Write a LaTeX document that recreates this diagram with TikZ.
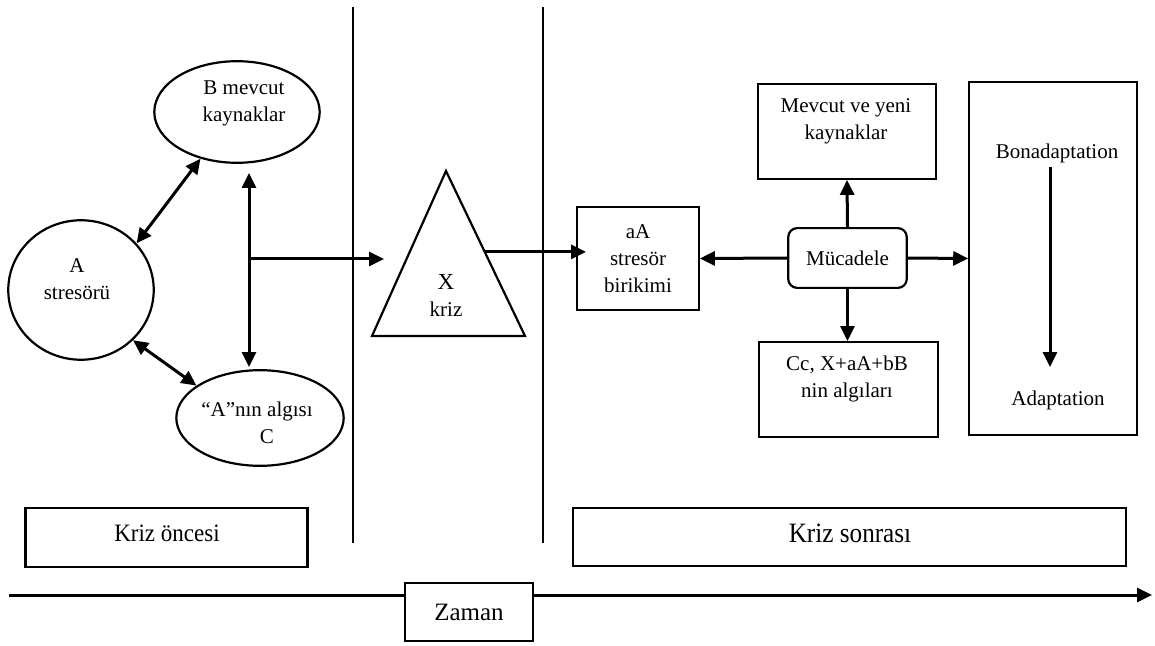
\documentclass[tikz,border=0pt]{standalone}
\usepackage{fontspec}
\usepackage{graphicx}
\setmainfont{Liberation Serif}
\usetikzlibrary{arrows.meta,shapes.geometric,calc}
\begin{document}
\begin{tikzpicture}[x=1bp,y=-1bp,
  every node/.style={font=\fontsize{21bp}{27bp}\selectfont, inner sep=0pt, align=center},
  frame/.style={draw, line width=2.2bp, fill=white},
  oval/.style={draw, ellipse, line width=2.2bp},
  divider/.style={line width=2.2bp},
  tip/.tip={Triangle[length=15bp,width=14bp]},
  link/.style={line width=3bp, -tip},
  dlink/.style={line width=3bp, tip-tip},
]
\useasboundingbox (0,0) rectangle (1155,646);

% period dividers
\draw[divider] (353,7) -- (353,543);
\draw[divider] (543,7) -- (543,543);

% pre-crisis factors
\node[oval, minimum width=166, minimum height=102] (B) at (237,112) {};
\node[oval, minimum width=146, minimum height=140] (A) at (81,290) {};
\node[oval, minimum width=168, minimum height=96] (C) at (260,418) {};
\node (Btxt) at (244,103) {B mevcut\\kaynaklar};
\node (Atxt) at (77,279) {A\\stresörü};
\node (Ctxt) at (257,423) {“A”nın algısı\\\hspace*{20bp}C};

\draw[dlink] (A.40) -- (B.232);
\draw[dlink] (A.-44) -- (C.153);

\coordinate (vtop) at (249,173);
\coordinate (vbot) at (249,367);
\coordinate (vmid) at (249,259);
\coordinate (xin) at (384,259);
\draw[dlink] (vtop) -- (vbot);
\draw[link] (vmid) -- (xin);

% crisis triangle
\coordinate (tA) at (446,171);
\coordinate (tL) at (372,336);
\coordinate (tR) at (525,336);
\draw[line width=2.2bp, line join=miter] (tA) -- (tR) -- (tL) -- cycle;
\node (X) at (446,295) {\fontsize{23bp}{30bp}\selectfont X\\kriz};
\coordinate (tout) at ($(tA)!0.49!(tR)$);

% post-crisis
\node[frame, minimum width=122, minimum height=103] (aA) at (638,258.5) {aA\\stresör\\birikimi};
\coordinate (aAin) at (586,252);
\draw[link] (tout) -- (tout -| aAin);

\node[frame, minimum width=178, minimum height=95] (Mev) at (847,131.5) {};
\node (Mevtxt) at (846,121) {Mevcut ve yeni\\kaynaklar};
\node[frame, rounded corners=9bp, minimum width=119, minimum height=60] (M) at (847.5,258) {Mücadele};
\node[frame, minimum width=179, minimum height=95] (Cc) at (848.5,389.5) {};
\node (Cctxt) at (847,378.5) {Cc, X+aA+bB\\nin algıları};
\node[frame, minimum width=168, minimum height=355] (Big) at (1053,258.5) {};
\node (Bon) at (1057,153) {Bonadaptation};
\node (Ada) at (1058,400) {Adaptation};
\coordinate (bt) at (1050,167);
\coordinate (bb) at (1050,367);
\draw[link] (bt) -- (bb);

\draw[link] (M.west) -- (aA.east);
\draw[link] (M.east) -- (Big.west);
\draw[link] (M.north) -- (Mev.south);
\draw[link] (M.south) -- (M.south |- Cc.north);

% period labels
\node[frame, minimum width=283, minimum height=59] (pre) at (166.5,537.5) {};
\node (pretxt) at (167,533) {\fontsize{25bp}{30bp}\selectfont\scalebox{0.92}[1]{Kriz öncesi}};
\node[frame, minimum width=555, minimum height=58] (post) at (849.5,537) {};
\node (posttxt) at (850,533) {\fontsize{28bp}{32bp}\selectfont\scalebox{0.9}[1]{Kriz sonrası}};

% time axis
\coordinate (tstart) at (9,595);
\coordinate (tend) at (1152,595);
\draw[link] (tstart) -- (tend);
\node[frame, minimum width=128, minimum height=58] (zaman) at (469,612) {\fontsize{25bp}{30bp}\selectfont Zaman};
\end{tikzpicture}
\end{document}
